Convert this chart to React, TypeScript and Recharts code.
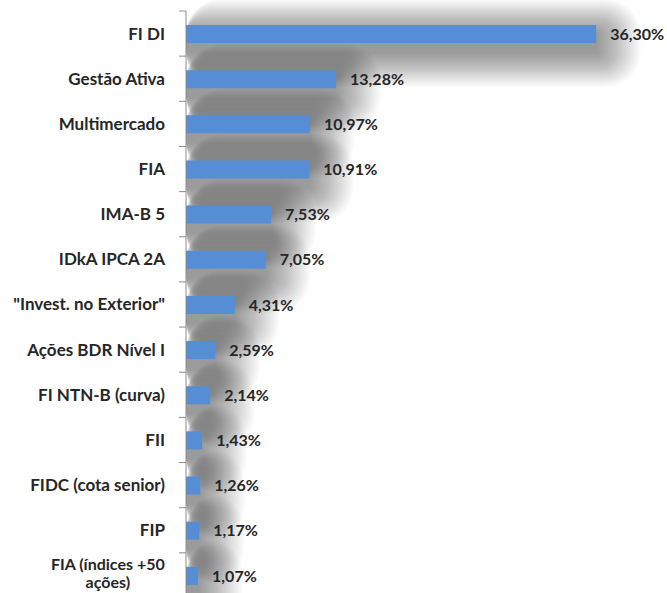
import { BarChart, Bar, XAxis, YAxis, LabelList } from "recharts"

const categories = [
  "FI DI",
  "Gestão Ativa",
  "Multimercado",
  "FIA",
  "IMA-B 5",
  "IDkA IPCA 2A",
  "\"Invest. no Exterior\"",
  "Ações BDR Nível I",
  "FI NTN-B (curva)",
  "FII",
  "FIDC (cota senior)",
  "FIP",
  "FIA (índices +50\nações)",
]

const shares = [36.3, 13.28, 10.97, 10.91, 7.53, 7.05, 4.31, 2.59, 2.14, 1.43, 1.26, 1.17, 1.07]

const data = categories.map((name, i) => ({ name, value: shares[i] }))

const FONT = "Lato, 'DejaVu Sans', sans-serif"
const TEXT = "#262626"
const TICK_FS = 17

let ctx: CanvasRenderingContext2D | null = null
function measure(s: string, fs: number) {
  if (!ctx) ctx = document.createElement("canvas").getContext("2d")
  if (!ctx) return s.length * 8
  ctx.font = `700 ${fs}px ${FONT}`
  return ctx.measureText(s).width
}

function CategoryTick(props: any) {
  const { x, y, payload } = props
  const lines = String(payload.value).split("\n")
  const half = payload.offset || 22.6
  // excel style: tick marks sit between categories
  const tick = (
    <line x1={x + 14} x2={x + 21} y1={y - half} y2={y - half} stroke="#8c8c8c" />
  )
  if (lines.length === 1) {
    return (
      <g>
        {tick}
        <text x={x} y={y} dy="0.35em" textAnchor="end" fill={TEXT} fontSize={TICK_FS} fontWeight={700} fontFamily={FONT}>
          {lines[0]}
        </text>
      </g>
    )
  }
  const fs = 16
  const w = Math.max(...lines.map((l) => measure(l, fs)))
  const cx = x - w / 2
  return (
    <g>
      {tick}
      {lines.map((l, i) => (
        <text key={i} x={cx} y={y - 2 + (i - (lines.length - 1) / 2) * 18} dy="0.35em" textAnchor="middle" fill={TEXT} fontSize={fs} fontWeight={700} fontFamily={FONT}>
          {l}
        </text>
      ))}
    </g>
  )
}

// soft shadow: many faint rounded rects growing around the bar
function ShadowShape(props: any) {
  const { x, y, width, height } = props
  const steps = 28
  const rects = []
  for (let k = 1; k <= steps; k++) {
    const gx = k * 1.6
    const gy = k * 1.25
    rects.push(
      <rect
        key={k}
        x={x}
        y={y + 9 - gy}
        width={width + gx}
        height={height + 2 * gy}
        rx={gy}
        fill="#000"
        fillOpacity={0.0155}
      />
    )
  }
  return <g>{rects}</g>
}

export default function App() {
  return (
    <div style={{ position: "absolute", left: 0, top: 0, width: 667, height: 593, overflow: "hidden", background: "#fff" }}>
      <BarChart
        width={667}
        height={598}
        data={data}
        layout="vertical"
        barGap={-18}
        margin={{ top: 11, right: 29, bottom: 0, left: 0 }}
      >
        <XAxis type="number" domain={[0, 40]} hide />
        <YAxis
          type="category"
          dataKey="name"
          width={186}
          axisLine={{ stroke: "#8c8c8c" }}
          tickLine={false}
          tickSize={5}
          tickMargin={16}
          interval={0}
          tick={<CategoryTick />}
        />
        <Bar dataKey="value" barSize={18} shape={<ShadowShape />} isAnimationActive={false} legendType="none" />
        <Bar dataKey="value" fill="#558ed5" barSize={18} isAnimationActive={false}>
          <LabelList
            dataKey="value"
            position="right"
            offset={14}
            formatter={(v: any) => `${Number(v).toFixed(2).replace(".", ",")}%`}
            fill={TEXT}
            fontSize={16}
            fontWeight={700}
            fontFamily={FONT}
          />
        </Bar>
      </BarChart>
    </div>
  )
}
